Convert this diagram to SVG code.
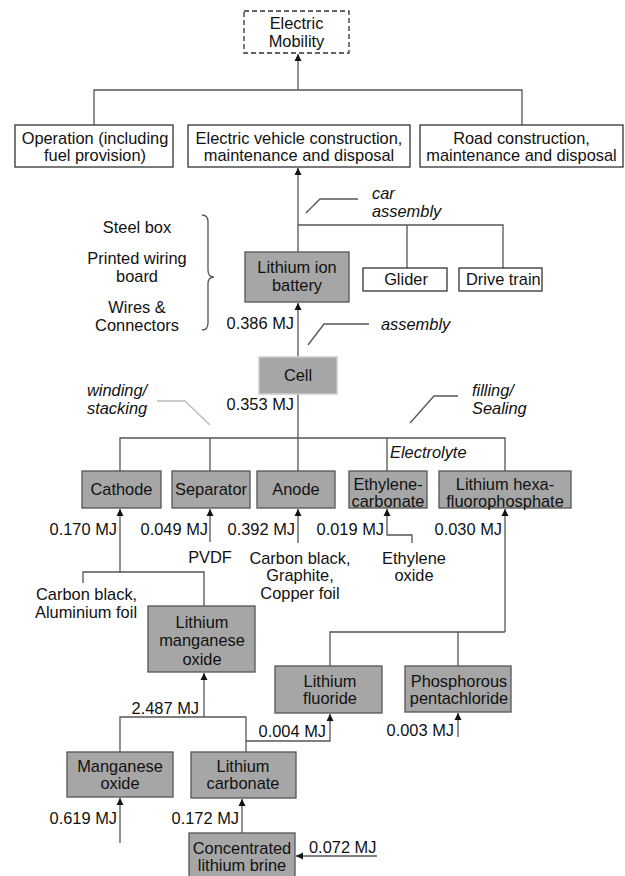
<svg xmlns="http://www.w3.org/2000/svg" width="625" height="876" viewBox="0 0 625 876">
<style>
text{font-family:"Liberation Sans",Arial,sans-serif;font-size:16.4px;fill:#111}
.c{text-anchor:middle}
.e{text-anchor:end}
.i{font-style:italic}
.w{fill:#fff;stroke:#333;stroke-width:1.3}
.g{fill:#a6a6a6;stroke:#555;stroke-width:1.3}
.ln{fill:none;stroke:#555;stroke-width:1.3}
.lt{fill:none;stroke:#bbb;stroke-width:1.3}
</style>
<defs>
<marker id="ah" viewBox="0 0 10 10" refX="10" refY="5" markerWidth="7" markerHeight="9" markerUnits="userSpaceOnUse" orient="auto">
<path d="M0,0 L10,5 L0,10 z" fill="#111"/>
</marker>
</defs>
<rect width="625" height="876" fill="#fff"/>

<g id="connectors">
<path class="ln" d="M298,90 V54" marker-end="url(#ah)"/>
<path class="ln" d="M94,125 V90 H522 V125"/>
<path class="ln" d="M298,252 V168" marker-end="url(#ah)"/>
<path class="ln" d="M298,225 H503 V268 M407,225 V268"/>
<path class="ln" d="M306,213 L320,199 H358"/>
<path class="ln" d="M298,357 V303" marker-end="url(#ah)"/>
<path class="ln" d="M308,345 L324,324 H369"/>
<path class="ln" d="M202,215 Q208,215 208,222 V270 Q208,277 214,277 Q208,277 208,284 V323 Q208,330 202,330"/>
<path class="ln" d="M298,394 V438"/>
<path class="ln" d="M120,471 V438 H505 V471 M210,438 V471 M298,438 V471 M387,438 V471"/>
<path class="lt" d="M157,401 H185 L210,425"/>
<path class="ln" d="M410,423 L434,396 H458"/>
<path class="ln" d="M120,572 V509" marker-end="url(#ah)"/>
<path class="ln" d="M83,583 V572 H204 V606"/>
<path class="ln" d="M210,542 V509" marker-end="url(#ah)"/>
<path class="ln" d="M298,543 V509" marker-end="url(#ah)"/>
<path class="ln" d="M412,543 V535 H387 V509" marker-end="url(#ah)"/>
<path class="ln" d="M505,632 V509" marker-end="url(#ah)"/>
<path class="ln" d="M330,666 V632 H505 M458,632 V666"/>
<path class="ln" d="M204,717 V673" marker-end="url(#ah)"/>
<path class="ln" d="M120,752 V717 H246 V752"/>
<path class="ln" d="M246,741 H330 V714" marker-end="url(#ah)"/>
<path class="ln" d="M458,737 V713" marker-end="url(#ah)"/>
<path class="ln" d="M120,843 V798" marker-end="url(#ah)"/>
<path class="ln" d="M242,833 V799" marker-end="url(#ah)"/>
<path class="ln" d="M377,856 H296" marker-end="url(#ah)"/>
</g>

<g id="electric-mobility">
<rect x="244" y="11" width="105" height="42" fill="#fff" stroke="#333" stroke-width="1.3" stroke-dasharray="5,3"/>
<text class="c" x="296.5" y="29">Electric</text>
<text class="c" x="296.5" y="47">Mobility</text>
</g>
<g id="operation">
<rect class="w" x="15" y="125" width="158" height="42"/>
<text class="c" x="95" y="144">Operation (including</text>
<text class="c" x="95" y="161">fuel provision)</text>
</g>
<g id="ev-construction">
<rect class="w" x="188" y="125" width="222" height="42"/>
<text class="c" x="299" y="144">Electric vehicle construction,</text>
<text class="c" x="299" y="161">maintenance and disposal</text>
</g>
<g id="road-construction">
<rect class="w" x="420" y="125" width="203" height="42"/>
<text class="c" x="521.5" y="144">Road construction,</text>
<text class="c" x="521.5" y="161">maintenance and disposal</text>
</g>

<g id="car-assembly-label">
<text class="i" x="372" y="199">car</text>
<text class="i" x="372" y="217">assembly</text>
</g>
<g id="battery-parts">
<text class="c" x="137" y="233">Steel box</text>
<text class="c" x="137" y="264">Printed wiring</text>
<text class="c" x="137" y="282">board</text>
<text class="c" x="137" y="313">Wires &amp;</text>
<text class="c" x="137" y="331">Connectors</text>
</g>
<g id="battery">
<rect class="g" x="245" y="252" width="104" height="50"/>
<text class="c" x="297" y="273">Lithium ion</text>
<text class="c" x="297" y="291">battery</text>
</g>
<g id="glider">
<rect class="w" x="363" y="268" width="84" height="23"/>
<text class="c" x="406" y="285">Glider</text>
</g>
<g id="drive-train">
<rect class="w" x="459" y="268" width="83" height="23"/>
<text x="466" y="285">Drive train</text>
</g>
<text class="e" x="294" y="329">0.386 MJ</text>
<text class="i" x="381" y="330">assembly</text>

<g id="cell">
<rect x="259" y="357" width="78" height="37" fill="#a6a6a6" stroke="#ccc" stroke-width="1.5"/>
<text class="c" x="298" y="381">Cell</text>
</g>
<text class="e" x="294" y="410">0.353 MJ</text>
<text class="i" x="87" y="396">winding/</text>
<text class="i" x="87" y="414">stacking</text>
<text class="i" x="472" y="396">filling/</text>
<text class="i" x="472" y="414">Sealing</text>
<text class="i" x="390" y="458">Electrolyte</text>

<g id="cathode">
<rect class="g" x="82" y="471" width="79" height="37"/>
<text class="c" x="121.5" y="495">Cathode</text>
</g>
<g id="separator">
<rect class="g" x="172" y="471" width="78" height="37"/>
<text class="c" x="211" y="495">Separator</text>
</g>
<g id="anode">
<rect class="g" x="257" y="471" width="78" height="37"/>
<text class="c" x="296" y="495">Anode</text>
</g>
<g id="ethylene-carbonate">
<rect class="g" x="349" y="471" width="78" height="37"/>
<text class="c" x="388" y="490">Ethylene-</text>
<text class="c" x="388" y="507">carbonate</text>
</g>
<g id="lithium-hexafluorophosphate">
<rect class="g" x="439" y="471" width="132" height="37"/>
<text class="c" x="505" y="490">Lithium hexa-</text>
<text class="c" x="505" y="507">fluorophosphate</text>
</g>

<text class="e" x="117" y="535">0.170 MJ</text>
<text class="e" x="208" y="535">0.049 MJ</text>
<text class="e" x="295" y="535">0.392 MJ</text>
<text class="e" x="384" y="535">0.019 MJ</text>
<text class="e" x="502" y="535">0.030 MJ</text>
<text class="c" x="210" y="563">PVDF</text>
<text class="c" x="300" y="564">Carbon black,</text>
<text class="c" x="300" y="581">Graphite,</text>
<text class="c" x="300" y="599">Copper foil</text>
<text class="c" x="414" y="564">Ethylene</text>
<text class="c" x="414" y="581">oxide</text>
<text x="36" y="600">Carbon black,</text>
<text x="35" y="618">Aluminium foil</text>

<g id="lithium-manganese-oxide">
<rect class="g" x="148" y="606" width="107" height="66"/>
<text class="c" x="202" y="628">Lithium</text>
<text class="c" x="202" y="646">manganese</text>
<text class="c" x="202" y="665">oxide</text>
</g>
<g id="lithium-fluoride">
<rect class="g" x="275" y="666" width="107" height="47"/>
<text class="c" x="330" y="687">Lithium</text>
<text class="c" x="330" y="704">fluoride</text>
</g>
<g id="phosphorous-pentachloride">
<rect class="g" x="405" y="666" width="106" height="46"/>
<text class="c" x="459" y="687">Phosphorous</text>
<text class="c" x="459" y="704">pentachloride</text>
</g>
<text class="e" x="199" y="714">2.487 MJ</text>
<text class="e" x="326" y="737">0.004 MJ</text>
<text class="e" x="454" y="736">0.003 MJ</text>

<g id="manganese-oxide">
<rect class="g" x="67" y="752" width="106" height="45"/>
<text class="c" x="120" y="772">Manganese</text>
<text class="c" x="120" y="789">oxide</text>
</g>
<g id="lithium-carbonate">
<rect class="g" x="191" y="752" width="105" height="46"/>
<text class="c" x="243" y="772">Lithium</text>
<text class="c" x="243" y="789">carbonate</text>
</g>
<text class="e" x="117" y="824">0.619 MJ</text>
<text class="e" x="239" y="824">0.172 MJ</text>

<g id="concentrated-lithium-brine">
<rect class="g" x="189" y="833" width="106" height="50"/>
<text class="c" x="242" y="854">Concentrated</text>
<text class="c" x="242" y="871">lithium brine</text>
</g>
<text x="309" y="853">0.072 MJ</text>
</svg>
